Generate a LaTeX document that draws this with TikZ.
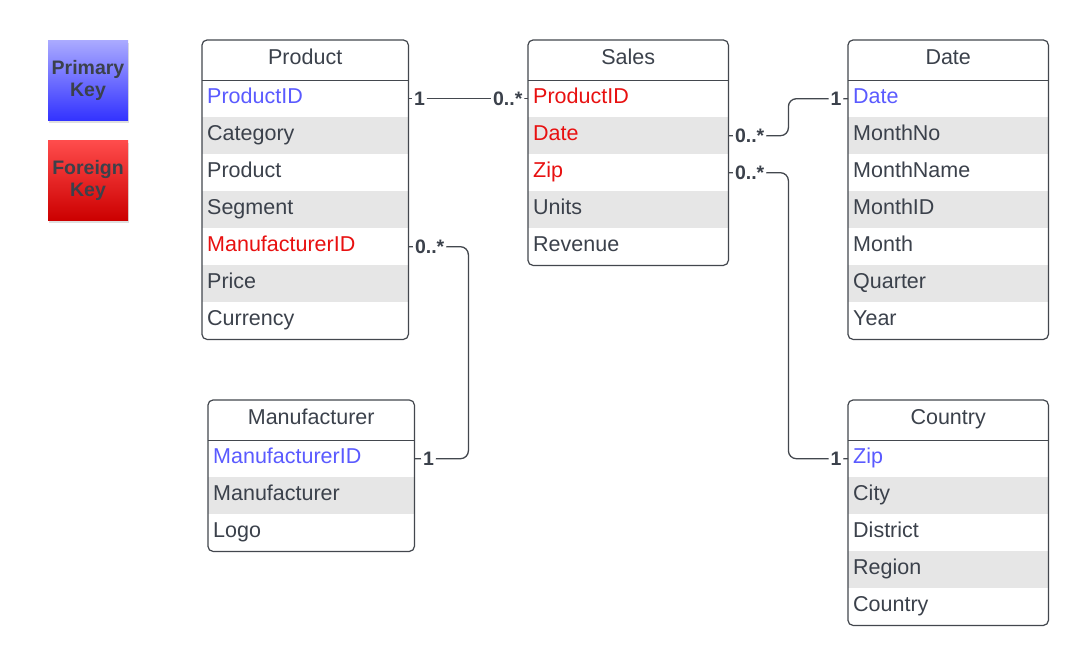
\documentclass[tikz,border=0pt]{standalone}
\usepackage{fontspec}
\setmainfont{Liberation Sans}
\usetikzlibrary{shadows}

\definecolor{ink}{HTML}{3B414B}
\definecolor{edge}{HTML}{43474E}
\definecolor{keyblue}{HTML}{5A5AFF}
\definecolor{keyred}{HTML}{E81010}
\definecolor{rowgray}{HTML}{E6E6E6}

\newcommand\cellfont{\fontsize{21.5}{24}\selectfont}
\newcommand\cardfont{\fontsize{19.5}{22}\selectfont\bfseries}

\tikzset{
  head/.style={rectangle, anchor=north west, minimum width=#1, minimum height=40pt,
    inner sep=0pt, text height=16pt, text depth=8pt, text=ink, font=\cellfont},
  cell/.style={rectangle, anchor=north west, text width=#1, minimum height=37pt,
    inner xsep=5pt, inner ysep=0pt, text height=16pt, text depth=6pt, text=ink, font=\cellfont},
  pk/.style={text=keyblue},
  fk/.style={text=keyred},
  field/.style={},
  frame/.style={draw=edge, line width=1.2pt, rounded corners=5pt},
  link/.style={draw=edge, line width=1.3pt, rounded corners=8pt},
  card/.style={fill=white, inner xsep=2pt, inner ysep=1pt, text=ink, font=\cardfont},
  legend/.style={minimum size=80pt, inner sep=0pt, align=center, text=ink,
    font=\cardfont, drop shadow={shadow xshift=1pt, shadow yshift=-3pt, opacity=0.25}}
}

\begin{document}
\begin{tikzpicture}[x=1pt,y=-1pt]
  \useasboundingbox[fill=white] (0,0) rectangle (1088,665);

  % legend
  \node[legend, top color=blue!33!white, bottom color=blue!80!white] (pkey) at (88,80) {Primary\\Key};
  \node[legend, top color=red!70!white, bottom color=red!80!black] (fkey) at (88,180) {Foreign\\Key};

  % Product
  \node[head=206pt] (prod-0) at (202,40) {Product};
  \foreach \k/\f [count=\i] in {pk/ProductID, field/Category, field/Product, field/Segment,
      fk/ManufacturerID, field/Price, field/Currency}{
    \ifodd\i \def\shade{white}\else \def\shade{rowgray}\fi
    \node[cell=196pt, \k, fill=\shade] (prod-\i) at (202,{80+37*(\i-1)}) {\f};
  }
  \draw[frame] (prod-0.north west) rectangle (prod-7.south east);
  \draw[frame] (prod-0.south west) -- (prod-0.south east);

  % Sales
  \node[head=200pt] (sales-0) at (528,40) {Sales};
  \foreach \k/\f [count=\i] in {fk/ProductID, fk/Date, fk/Zip, field/Units, field/Revenue}{
    \ifodd\i \def\shade{white}\else \def\shade{rowgray}\fi
    \node[cell=190pt, \k, fill=\shade] (sales-\i) at (528,{80+37*(\i-1)}) {\f};
  }
  \draw[frame] (sales-0.north west) rectangle (sales-5.south east);
  \draw[frame] (sales-0.south west) -- (sales-0.south east);

  % Date
  \node[head=200pt] (date-0) at (848,40) {Date};
  \foreach \k/\f [count=\i] in {pk/Date, field/MonthNo, field/MonthName, field/MonthID,
      field/Month, field/Quarter, field/Year}{
    \ifodd\i \def\shade{white}\else \def\shade{rowgray}\fi
    \node[cell=190pt, \k, fill=\shade] (date-\i) at (848,{80+37*(\i-1)}) {\f};
  }
  \draw[frame] (date-0.north west) rectangle (date-7.south east);
  \draw[frame] (date-0.south west) -- (date-0.south east);

  % Manufacturer
  \node[head=206pt] (manu-0) at (208,400) {Manufacturer};
  \foreach \k/\f [count=\i] in {pk/ManufacturerID, field/Manufacturer, field/Logo}{
    \ifodd\i \def\shade{white}\else \def\shade{rowgray}\fi
    \node[cell=196pt, \k, fill=\shade] (manu-\i) at (208,{440+37*(\i-1)}) {\f};
  }
  \draw[frame] (manu-0.north west) rectangle (manu-3.south east);
  \draw[frame] (manu-0.south west) -- (manu-0.south east);

  % Country
  \node[head=200pt] (ctry-0) at (848,400) {Country};
  \foreach \k/\f [count=\i] in {pk/Zip, field/City, field/District, field/Region, field/Country}{
    \ifodd\i \def\shade{white}\else \def\shade{rowgray}\fi
    \node[cell=190pt, \k, fill=\shade] (ctry-\i) at (848,{440+37*(\i-1)}) {\f};
  }
  \draw[frame] (ctry-0.north west) rectangle (ctry-5.south east);
  \draw[frame] (ctry-0.south west) -- (ctry-0.south east);

  % relations
  \draw[link] (prod-1.east) -- (sales-1.west)
    node[card, at start, anchor=west, xshift=3pt] {1}
    node[card, at end, anchor=east, xshift=-3pt] {0..*};
  \draw[link] (sales-2.east) -- node[card, at start, anchor=west, xshift=4pt] {0..*} ++(60,0)
    |- node[card, at end, anchor=east, xshift=-4pt] {1} (date-1.west);
  \draw[link] (sales-3.east) -- node[card, at start, anchor=west, xshift=4pt] {0..*} ++(60,0)
    |- node[card, at end, anchor=east, xshift=-4pt] {1} (ctry-1.west);
  \draw[link] (prod-5.east) -- node[card, at start, anchor=west, xshift=4pt] {0..*} ++(60,0)
    |- node[card, at end, anchor=west, xshift=6pt] {1} (manu-1.east);
\end{tikzpicture}
\end{document}
